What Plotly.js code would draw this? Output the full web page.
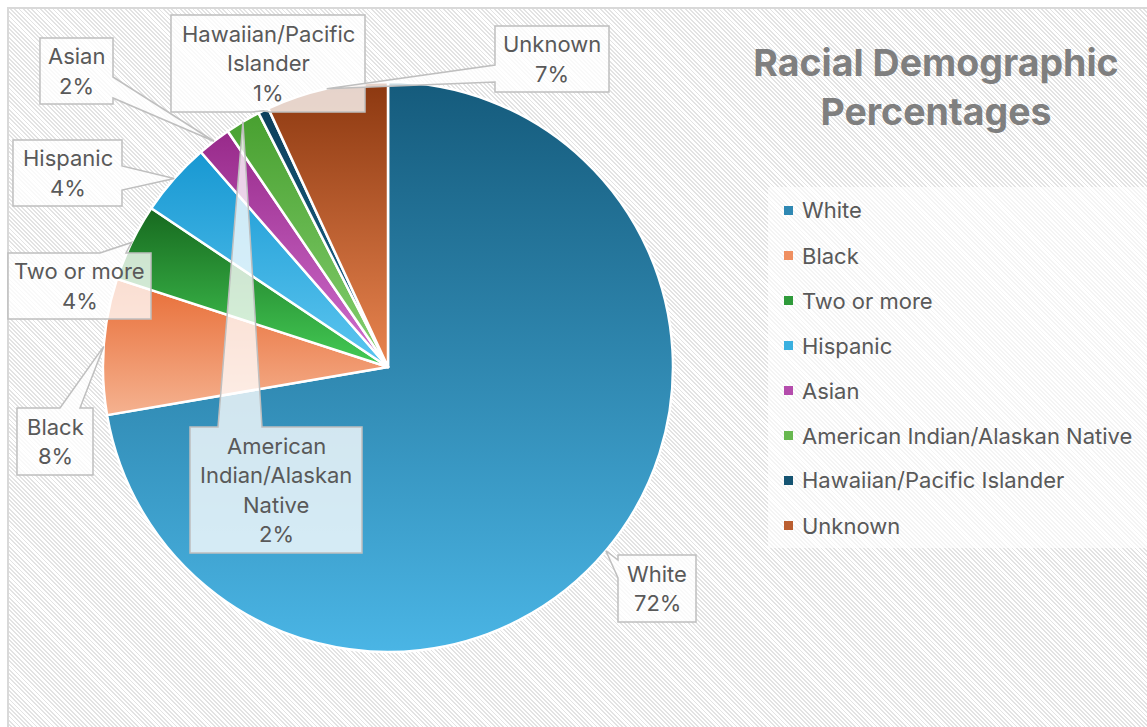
<!DOCTYPE html>
<html><head><meta charset="utf-8">
<script src="https://cdn.plot.ly/plotly-3.0.1.min.js"></script>
<style>
html,body{margin:0;padding:0;background:#fff;overflow:hidden;}
#frame{position:absolute;left:7px;top:7px;width:1160px;height:740px;border-left:2px solid #d9d9d9;border-top:2px solid #d9d9d9;
background: repeating-linear-gradient(45deg, #ffffff 0px, #ffffff 1.7px, #e3e3e3 1.7px, #e3e3e3 3px);}
#chart{position:absolute;left:0;top:0;width:1147px;height:727px;}
</style></head><body>
<div id="frame"></div>
<div id="chart"></div>
<script>
// ---- data ----
const categories = ['White','Black','Two or more','Hispanic','Asian','American Indian/Alaskan Native','Hawaiian/Pacific Islander','Unknown'];
const values = [72.3, 7.7, 4.4, 4.2, 1.9, 2.0, 0.6, 6.9];
const titleText = 'Racial Demographic<br>Percentages';

// ---- style ----
const colorTop    = ['#155b7c','#e86c35','#17691f','#1898d2','#982a8a','#48a030','#0d3f5c','#8c3810'];
const colorBottom = ['#4ab5e5','#f5b290','#44cc55','#5cc6f0','#d070d0','#86d070','#1c6a8e','#e98550'];
const colorMid    = ['#2f88b3','#ef8f60','#2e9a3a','#3ab0e0','#b44cac','#68b850','#155472','#ba5e30'];
const W = 1147, H = 727;
const CX = 388, CY = 367, R = 285;
const FONT = 'Inter, "Noto Sans", sans-serif';
const TXT = '#595959';
const LABEL_SIZE = 22;

// callout boxes (pixel), pointer side and base
const callouts = [
  {box:[618,555,696,622], side:'left',   b1:560, b2:578, wrap:false},
  {box:[17,408,93,475],   side:'top',    b1:60,  b2:80,  wrap:false},
  {box:[8,253,151,319],   side:'top',    b1:100, b2:126, wrap:false},
  {box:[13,140,122,206],  side:'right',  b1:166, b2:190, wrap:false},
  {box:[40,38,113,104],   side:'right',  b1:77,  b2:98,  wrap:false},
  {box:[190,427,362,553], side:'top',    b1:218, b2:262, wrap:true},
  {box:[171,15,365,112],  side:'bottom', b1:252, b2:270, wrap:true},
  {box:[495,26,609,92],   side:'left',   b1:65,  b2:82,  wrap:false}
];

const px = x => x / W;
const py = y => 1 - y / H;

const total = values.reduce((a,b)=>a+b,0);
let cum = 0;
const tips = values.map(v => {
  const th = 2*Math.PI*(cum + v/2)/total;
  cum += v;
  return [CX + R*Math.sin(th), CY - R*Math.cos(th)];
});

function calloutPath(c, tip){
  const [x0,y0,x1,y1] = c.box;
  let pts = [];
  pts.push([x0,y0]);
  if(c.side==='top'){ pts.push([c.b1,y0], tip, [c.b2,y0]); }
  pts.push([x1,y0]);
  if(c.side==='right'){ pts.push([x1,c.b1], tip, [x1,c.b2]); }
  pts.push([x1,y1]);
  if(c.side==='bottom'){ pts.push([c.b2,y1], tip, [c.b1,y1]); }
  pts.push([x0,y1]);
  if(c.side==='left'){ pts.push([x0,c.b2], tip, [x0,c.b1]); }
  return 'M ' + pts.map(p => px(p[0]).toFixed(5)+','+py(p[1]).toFixed(5)).join(' L ') + ' Z';
}

const shapes = [];
const annotations = [];
const LINE = 29.6;

callouts.forEach((c,i) => {
  shapes.push({type:'path', xref:'paper', yref:'paper', path: calloutPath(c, tips[i]),
    fillcolor:'rgba(255,255,255,0.78)', line:{color:'#bfbfbf', width:1.5}, layer:'above'});
  const pct = Math.round(values[i]/total*100) + '%';
  const lines = (c.wrap ? categories[i].split(' ') : [categories[i]]).concat([pct]);
  const cxb = (c.box[0]+c.box[2])/2, cyb = (c.box[1]+c.box[3])/2;
  lines.forEach((t,j) => {
    const yy = cyb + (j - (lines.length-1)/2)*LINE;
    annotations.push({xref:'paper', yref:'paper', x:px(cxb), y:py(yy), xanchor:'center', yanchor:'middle',
      text:t, showarrow:false, font:{family:FONT, size:LABEL_SIZE, color:TXT}});
  });
});

// custom legend
shapes.push({type:'rect', xref:'paper', yref:'paper', x0:px(768), x1:px(1147), y0:py(548), y1:py(187),
  fillcolor:'rgba(255,255,255,0.6)', line:{width:0}, layer:'below'});
categories.forEach((name,i) => {
  const yc = 210.5 + 45*i;
  shapes.push({type:'rect', xref:'paper', yref:'paper', x0:px(784), x1:px(793), y0:py(yc+4.5), y1:py(yc-4.5),
    fillcolor:colorMid[i], line:{width:0}});
  annotations.push({xref:'paper', yref:'paper', x:px(800), y:py(yc), xanchor:'left', yanchor:'middle',
    text:name, showarrow:false, font:{family:FONT, size:LABEL_SIZE, color:TXT}});
});

const data = [{
  type:'pie', labels:categories, values:values, sort:false, direction:'clockwise', rotation:0,
  textinfo:'none', hoverinfo:'none', showlegend:false,
  marker:{colors:colorMid, line:{color:'#ffffff', width:2.5}},
  domain:{x:[(CX-R)/W, (CX+R)/W], y:[1-(CY+R)/H, 1-(CY-R)/H]}
}];

const layout = {
  width:W, height:H, margin:{l:0,r:0,t:0,b:0},
  paper_bgcolor:'rgba(0,0,0,0)', plot_bgcolor:'rgba(0,0,0,0)',
  showlegend:false,
  title:{text:titleText, x:936/W, xanchor:'center', y:1-76/H, yanchor:'middle', yref:'container',
    font:{family:FONT, size:37.5, color:'#7f7f7f', weight:'bold'}},
  shapes:shapes, annotations:annotations
};

Plotly.newPlot('chart', data, layout, {staticPlot:true}).then(gd => {
  const NS = 'http://www.w3.org/2000/svg';
  const svg = gd.querySelector('svg.main-svg');
  let defs = svg.querySelector('defs');
  if(!defs){ defs = document.createElementNS(NS,'defs'); svg.insertBefore(defs, svg.firstChild); }
  const paths = gd.querySelectorAll('g.slice path.surface');
  paths.forEach((p,i) => {
    const lg = document.createElementNS(NS,'linearGradient');
    lg.setAttribute('id','sg'+i);
    lg.setAttribute('x1','0'); lg.setAttribute('y1','0'); lg.setAttribute('x2','0'); lg.setAttribute('y2','1');
    [[0,colorTop[i]],[1,colorBottom[i]]].forEach(s => {
      const st = document.createElementNS(NS,'stop');
      st.setAttribute('offset', s[0]); st.setAttribute('stop-color', s[1]);
      lg.appendChild(st);
    });
    defs.appendChild(lg);
    p.style.fill = 'url(#sg'+i+')';
  });
});
</script>
</body></html>
